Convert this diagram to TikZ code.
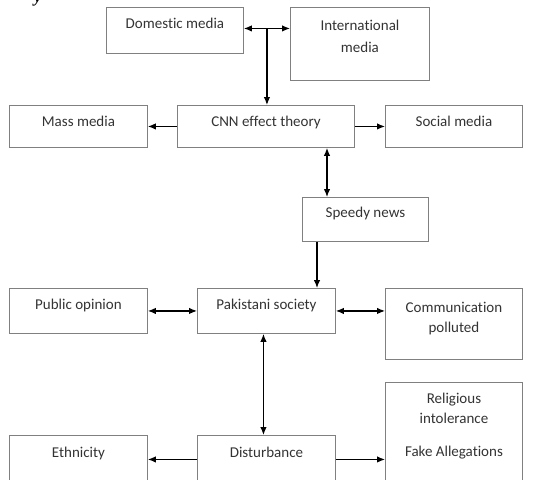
\documentclass[tikz,border=0pt]{standalone}
\usepackage{fontspec}
\setmainfont{Carlito}[Ligatures=NoCommon]
\newfontfamily\capfont{Liberation Serif}
\usetikzlibrary{arrows.meta, calc, positioning}

\tikzset{
  box/.style={draw=black!50, line width=0.9pt, anchor=north west, inner sep=0pt},
  txt/.style={anchor=base, align=center, text=black!80, inner sep=0pt,
    font=\fontsize{15}{20}\selectfont},
}

\begin{document}
\begin{tikzpicture}[x=1pt, y=-1pt, >={Latex[length=8pt,width=6.5pt]}, line width=1.2pt]
  \useasboundingbox (0,0) rectangle (537,479);
  \clip (0,0) rectangle (537,479);

  \node[font=\capfont\bfseries\itshape\fontsize{17}{17}\selectfont, anchor=base, inner sep=0pt] (figy) at (38,2) {y};

  % last line baseline sets the shift of each label
  \node[box, minimum width=137pt, minimum height=46pt, label={[txt, yshift=-21pt]north:Domestic media}] (dom) at (106,7) {};
  \node[box, minimum width=139pt, minimum height=73pt, label={[txt, yshift=-45pt]north:International\\[2pt]media}] (intl) at (290,7) {};
  \node[box, minimum width=138pt, minimum height=42pt, label={[txt, yshift=-21pt]north:Mass media}] (mass) at (9,105) {};
  \node[box, minimum width=177pt, minimum height=42pt, label={[txt, yshift=-21pt]north:CNN effect theory}] (cnn) at (177,105) {};
  \node[box, minimum width=137pt, minimum height=42pt, label={[txt, yshift=-21pt]north:Social media}] (social) at (385,105) {};
  \node[box, minimum width=126pt, minimum height=44pt, label={[txt, yshift=-20pt]north:Speedy news}] (speedy) at (302,197) {};
  \node[box, minimum width=138pt, minimum height=45pt, label={[txt, yshift=-21pt]north:Public opinion}] (public) at (9,288) {};
  \node[box, minimum width=138pt, minimum height=45pt, label={[txt, yshift=-21pt]north:Pakistani society}] (pak) at (197,288) {};
  \node[box, minimum width=137pt, minimum height=71pt, label={[txt, yshift=-44pt]north:Communication\\polluted}] (comm) at (385,288) {};
  \node[box, minimum width=137pt, minimum height=160pt, label={[txt, yshift=-74pt]north:Religious\\intolerance\\[13pt]Fake Allegations}] (rel) at (385,382) {};
  \node[box, minimum width=138pt, minimum height=48pt, label={[txt, yshift=-22pt]north:Ethnicity}] (eth) at (9,435) {};
  \node[box, minimum width=138pt, minimum height=48pt, label={[txt, yshift=-22pt]north:Disturbance}] (dist) at (197,435) {};

  % media on top
  \coordinate (junc) at ($(dom.east)!0.5!(intl.west |- dom.east)$);
  \draw[<->] ([yshift=2pt]dom.east) -- ([yshift=2pt]dom.east -| intl.west);
  \draw[->] ([yshift=2pt]junc) -- (junc |- cnn.north);
  \draw[->] (cnn.west) -- (mass.east);
  \draw[->] (cnn.east) -- (social.west);

  % news into society
  \draw[<->] ([xshift=25pt]speedy.north west |- cnn.south) -- ([xshift=25pt]speedy.north west);
  \draw[->] ([xshift=15pt]speedy.south west) -- ([xshift=15pt]speedy.south west |- pak.north);
  \draw[<->] (pak.west) -- (public.east);
  \draw[<->] (pak.east) -- (pak.east -| comm.west);

  % effects
  \draw[<->] ([xshift=-3pt]pak.south) -- ([xshift=-3pt]pak.south |- dist.north);
  \draw[->] (dist.west) -- (eth.east);
  \draw[->] (dist.east) -- (dist.east -| rel.west);
\end{tikzpicture}
\end{document}
